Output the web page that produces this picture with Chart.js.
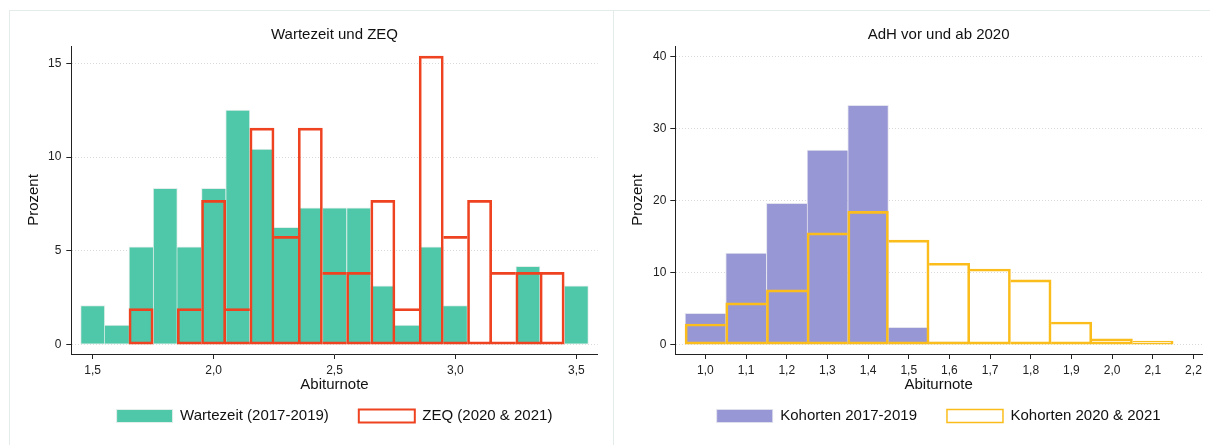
<!DOCTYPE html>
<html>
<head>
<meta charset="utf-8">
<script src="https://cdn.jsdelivr.net/npm/chart.js@4"></script>
<style>
  body { margin: 0; background: #fff; }
  #wrap { position: relative; width: 1210px; height: 445px; overflow: hidden; }
  .frame { position: absolute; top: 10px; bottom: 0; border-top: 1px solid #e4ebeb; border-left: 1px solid #e4ebeb; }
  canvas { position: absolute; top: 0; }
</style>
</head>
<body>
<div id="wrap">
  <div class="frame" style="left:9px; width:604px"></div>
  <div class="frame" style="left:613px; right:0"></div>
  <canvas id="leftChart" width="605" height="445" style="left:0"></canvas>
  <canvas id="rightChart" width="605" height="445" style="left:605px"></canvas>
</div>
<script>
Chart.defaults.font.family = "'Liberation Sans', Arial, Helvetica, sans-serif";
Chart.defaults.color = "#1a1a1a";

// Wartezeit und ZEQ (percent per 0.1 bin, bins centred on the grade)
const wzBins = [1.5, 1.6, 1.7, 1.8, 1.9, 2.0, 2.1, 2.2, 2.3, 2.4, 2.5, 2.6, 2.7, 2.8, 2.9, 3.0, 3.1, 3.2, 3.3, 3.4, 3.5];
const wartezeit = [2.08, 1.04, 5.21, 8.33, 5.21, 8.33, 12.5, 10.42, 6.25, 7.29, 7.29, 7.29, 3.13, 1.04, 5.21, 2.08, 0, 0, 4.17, 0, 3.13];
const zeq = [0, 0, 1.92, 0, 1.92, 7.69, 1.92, 11.54, 5.77, 11.54, 3.85, 3.85, 7.69, 1.92, 15.38, 5.77, 7.69, 3.85, 3.85, 3.85, 0];
const wzXTicks = [1.5, 2.0, 2.5, 3.0, 3.5];
const wzXLabels = ["1,5", "2,0", "2,5", "3,0", "3,5"];
const wzYTicks = [0, 5, 10, 15];

// AdH vor und ab 2020
const adhBins = [1.0, 1.1, 1.2, 1.3, 1.4, 1.5, 1.6, 1.7, 1.8, 1.9, 2.0, 2.1];
const kohorten1719 = [4.35, 12.7, 19.6, 27.0, 33.2, 2.4, 0.4, 0, 0, 0, 0, 0];
const kohorten2021 = [2.87, 5.8, 7.6, 15.5, 18.5, 14.5, 11.3, 10.5, 9.0, 3.15, 0.83, 0.5];
const adhXTicks = [1.0, 1.1, 1.2, 1.3, 1.4, 1.5, 1.6, 1.7, 1.8, 1.9, 2.0, 2.1, 2.2];
const adhXLabels = ["1,0", "1,1", "1,2", "1,3", "1,4", "1,5", "1,6", "1,7", "1,8", "1,9", "2,0", "2,1", "2,2"];
const adhYTicks = [0, 10, 20, 30, 40];

function points(bins, vals) {
  return bins.map((x, i) => ({ x: x, y: vals[i] ? vals[i] : null }));
}

// shared edge between two bars is drawn only once, by the taller one
function edges(vals, w) {
  return function (ctx) {
    const i = ctx.dataIndex;
    const v = vals[i] || 0;
    if (i === undefined || !v) return w;
    const l = vals[i - 1] || 0;
    const r = vals[i + 1] || 0;
    return { top: w, bottom: w, left: v >= l ? w : 0, right: v > r ? w : 0 };
  };
}

function histChart(id, o) {
  return new Chart(document.getElementById(id), {
    type: "bar",
    data: {
      datasets: [
        {
          label: o.frontLabel,
          data: points(o.bins, o.front),
          backgroundColor: "rgba(255,255,255,0)",
          borderColor: o.frontColor,
          borderWidth: edges(o.front, 2),
          borderSkipped: false,
          grouped: false,
          barPercentage: 1,
          categoryPercentage: 1
        },
        {
          label: o.backLabel,
          data: points(o.bins, o.back),
          backgroundColor: o.backColor,
          borderColor: o.backEdge,
          borderWidth: edges(o.back, 1),
          borderSkipped: false,
          grouped: false,
          barPercentage: 1,
          categoryPercentage: 1
        }
      ]
    },
    options: {
      responsive: false,
      animation: false,
      layout: { padding: { left: 0, right: o.padRight, top: 0, bottom: 11.5 } },
      plugins: {
        title: {
          display: true,
          fullSize: false,
          text: o.title,
          color: "#111",
          font: { size: 15, weight: "normal" },
          padding: { top: 26, bottom: 2 }
        },
        legend: {
          position: "bottom",
          fullSize: false,
          reverse: true,
          labels: { boxWidth: 56, boxHeight: 13, padding: 30, color: "#111", font: { size: 15 } }
        },
        tooltip: { enabled: false }
      },
      scales: {
        x: {
          type: "linear",
          offset: false,
          min: o.xMin,
          max: o.xMax,
          grid: { offset: false, drawOnChartArea: false, tickLength: 5, tickColor: "#222" },
          border: { color: "#222" },
          ticks: {
            autoSkip: false,
            maxRotation: 0,
            padding: 4,
            color: "#222",
            font: { size: 12 },
            callback: (v, i) => o.xLabels[i]
          },
          afterBuildTicks: s => { s.ticks = o.xTicks.map(v => ({ value: v })); },
          afterFit: s => { s.height = 24.5; },
          title: { display: true, text: "Abiturnote", color: "#111", font: { size: 15 }, padding: { top: 0, bottom: -15.5 } }
        },
        y: {
          min: o.yMin,
          max: o.yMax,
          grid: { color: "#d9d9d9", tickLength: 5, tickColor: "#222" },
          border: { color: "#222", dash: [1, 2] },
          ticks: { padding: o.yPad, color: "#222", font: { size: 12 } },
          afterBuildTicks: s => { s.ticks = o.yTicks.map(v => ({ value: v })); },
          afterFit: s => { s.width = o.yWidth; },
          title: { display: true, text: "Prozent", color: "#111", font: { size: 15 }, padding: { top: o.yTitlePad, bottom: 0 } }
        }
      }
    }
  });
}

histChart("leftChart", {
  title: "Wartezeit und ZEQ",
  bins: wzBins,
  back: wartezeit,
  front: zeq,
  backLabel: "Wartezeit (2017-2019)",
  frontLabel: "ZEQ (2020 & 2021)",
  backColor: "#4fc8a9",
  backEdge: "#e2eeea",
  frontColor: "#ee4220",
  xTicks: wzXTicks,
  xLabels: wzXLabels,
  yTicks: wzYTicks,
  xMin: 1.4115, xMax: 3.5885,
  yMin: -0.5, yMax: 15.92,
  padRight: 7.3,
  yWidth: 71.3, yPad: 5, yTitlePad: 25
});

histChart("rightChart", {
  title: "AdH vor und ab 2020",
  bins: adhBins,
  back: kohorten1719,
  front: kohorten2021,
  backLabel: "Kohorten 2017-2019",
  frontLabel: "Kohorten 2020 & 2021",
  backColor: "#9897d6",
  backEdge: "#e4e4ee",
  frontColor: "#fbbd1c",
  xTicks: adhXTicks,
  xLabels: adhXLabels,
  yTicks: adhYTicks,
  xMin: 0.926, xMax: 2.221,
  yMin: -1.29, yMax: 41.43,
  padRight: 8,
  yWidth: 70.3, yPad: 4, yTitlePad: 24
});
</script>
</body>
</html>
